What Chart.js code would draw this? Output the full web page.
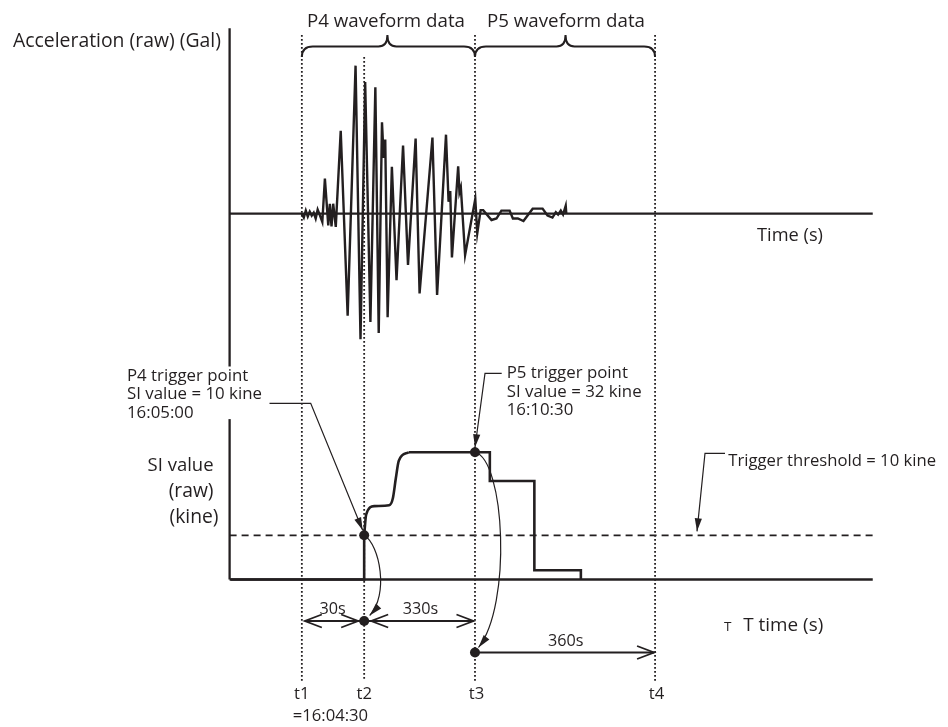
<!DOCTYPE html>
<html>
<head>
<meta charset="utf-8">
<script src="https://cdn.jsdelivr.net/npm/chart.js@4.4.1/dist/chart.umd.min.js"></script>
<style>
  html, body { margin: 0; background: #fff; }
  #wrap { width: 948px; height: 727px; position: relative; }
</style>
</head>
<body>
<div id="wrap"><canvas id="chart-si"></canvas></div>
<script>
const INK = '#231f20';
const FONT = '"Open Sans", "Noto Sans", sans-serif';

// schematic time axis (not to scale): t1..t4 markers
const markerLabels = ['t1', 't2', 't3', 't4'];
const markerX = [300, 363, 475, 657];

// raw acceleration waveform (Gal)
const accX = [300, 302, 304, 306, 308, 310, 312, 314, 316, 318, 320.7, 323.3, 326.7, 328.3, 330, 331.7, 334.3,
  339.3, 346.3, 354.3, 359.3, 364, 369.3, 374.3, 377.7, 381, 382.7, 384.3, 386.7, 391, 395.7, 402.3, 407.3,
  415, 419, 432, 436.7, 445.7, 448.3, 450, 451.7, 458, 459.3, 460.7, 465, 475.3, 477.3, 480.7, 483.3,
  491.7, 496.7, 501.7, 510, 513.3, 518.3, 524, 533.3, 543.3, 548.3, 553.3, 556.7, 559, 561.7, 564, 566.7, 567.3];
const accGal = [0, -4, 3, -3, 2, -2, 1, -5, 4, -1, -8.5, 35.5, -12, 10, -13, 10, -13.5,
  84, -103.5, 150, -127.5, 133.5, -110, 128, -121, 92.5, 56.5, 75, -105, 47.5, -67.5, 69, -52,
  76, -81, 77, -82.5, 80, 12, 23, -44.5, 48, 21.5, 26.5, -42, 15, -20, 3.5, 3.5,
  -6.5, -5, 3, 3, -5, -5, -7.5, 5, 5, -2, -4, 1.5, -1, 3, -1, 8, 0];

// SI value (kine)
const siJumpX = [228, 363, 363];
const siJumpKine = [0, 0, 10];
const siRiseX = [363, 365, 373.3, 388.3, 392, 395, 398, 408];
const siRiseKine = [10, 14.7, 16.6, 16.8, 18.4, 22.9, 26.9, 28.8];
const siStepX = [408, 490, 535, 582];
const siStepKine = [28.8, 22.3, 2.1, 0];
const thresholdKine = 10;
const triggerX = [363, 475];
const triggerKine = [10, 28.8];

// axis extents
const axisLeft = 227;
const axisRight = 877;
const accAxisRange = [188, -155];
const siAxisTop = 36.3;

const toPoints = (xs, ys) => xs.map((x, i) => ({ x, y: ys[i] }));

const seg = (ctx, x1, y1, x2, y2) => {
  ctx.beginPath(); ctx.moveTo(x1, y1); ctx.lineTo(x2, y2); ctx.stroke();
};

const filledHead = (ctx, fx, fy, tx, ty, len = 13, half = 3.6) => {
  const a = Math.atan2(ty - fy, tx - fx);
  ctx.beginPath();
  ctx.moveTo(tx, ty);
  ctx.lineTo(tx - len * Math.cos(a) + half * Math.sin(a), ty - len * Math.sin(a) - half * Math.cos(a));
  ctx.lineTo(tx - len * Math.cos(a) - half * Math.sin(a), ty - len * Math.sin(a) + half * Math.cos(a));
  ctx.closePath();
  ctx.fill();
};

const openHead = (ctx, tx, ty, dir, len = 17, half = 6.5) => {
  ctx.beginPath();
  ctx.moveTo(tx - dir * len, ty - half);
  ctx.lineTo(tx, ty);
  ctx.lineTo(tx - dir * len, ty + half);
  ctx.stroke();
};

const dot = (ctx, x, y, r = 5) => {
  ctx.beginPath(); ctx.arc(x, y, r, 0, Math.PI * 2); ctx.fill();
};

const brace = (ctx, x1, x2, xm, yTop, yMid, yEnd) => {
  ctx.beginPath();
  ctx.moveTo(x1, yEnd);
  ctx.quadraticCurveTo(x1, yMid, x1 + 11, yMid);
  ctx.lineTo(xm - 9, yMid);
  ctx.quadraticCurveTo(xm, yMid, xm, yTop);
  ctx.quadraticCurveTo(xm, yMid, xm + 9, yMid);
  ctx.lineTo(x2 - 11, yMid);
  ctx.quadraticCurveTo(x2, yMid, x2, yEnd);
  ctx.stroke();
};

// font size that makes `str` span `width` px
const fitSize = (ctx, str, width) => {
  ctx.font = `100px ${FONT}`;
  return (100 * width) / ctx.measureText(str).width;
};

const text = (ctx, str, x, y, size, align = 'left') => {
  ctx.font = `${size}px ${FONT}`;
  ctx.textAlign = align;
  ctx.textBaseline = 'alphabetic';
  ctx.fillText(str, x, y);
};

const diagramPlugin = {
  id: 'diagram',
  beforeDatasetsDraw(chart) {
    const { ctx, scales } = chart;
    const X = (v) => scales.x.getPixelForValue(v);
    const A = (v) => scales.acc.getPixelForValue(v);
    const S = (v) => scales.si.getPixelForValue(v);
    ctx.save();
    ctx.strokeStyle = INK;
    ctx.fillStyle = INK;

    // dotted t-markers
    const tops = [35, 57, 35, 35];
    ctx.lineWidth = 1.8;
    ctx.setLineDash([1.8, 2.2]);
    markerX.forEach((mx, i) => seg(ctx, X(mx), tops[i], X(mx), 681));

    // trigger threshold
    ctx.setLineDash([7, 5]);
    seg(ctx, X(axisLeft), S(thresholdKine), X(axisRight), S(thresholdKine));
    ctx.setLineDash([]);

    // axes
    ctx.lineWidth = 2.3;
    seg(ctx, X(axisLeft), A(accAxisRange[0]), X(axisLeft), A(accAxisRange[1]));
    seg(ctx, X(axisLeft), A(0), X(axisRight), A(0));
    seg(ctx, X(axisLeft), S(siAxisTop), X(axisLeft), S(0));
    seg(ctx, X(axisLeft), S(0), X(axisRight), S(0));
    ctx.restore();
  },
  afterDatasetsDraw(chart) {
    const { ctx, scales } = chart;
    const X = (v) => scales.x.getPixelForValue(v);
    const S = (v) => scales.si.getPixelForValue(v);
    const [t1, t2, t3, t4] = markerX.map(X);
    ctx.save();
    ctx.strokeStyle = INK;
    ctx.fillStyle = INK;

    // waveform braces
    ctx.lineWidth = 2;
    brace(ctx, t1, t3, (t1 + t3) / 2 - 1, 35, 46.5, 57);
    brace(ctx, t3, t4, (t3 + t4) / 2 + 0.5, 35, 46.5, 57);

    // leader lines
    ctx.lineWidth = 1.2;
    const p4 = { x: X(triggerX[0]), y: S(triggerKine[0]) };
    const p5 = { x: X(triggerX[1]), y: S(triggerKine[1]) };
    ctx.beginPath(); ctx.moveTo(269.5, 403.3); ctx.lineTo(310.7, 403.3); ctx.lineTo(p4.x - 1.5, p4.y - 5); ctx.stroke();
    filledHead(ctx, 310.7, 403.3, p4.x - 1.5, p4.y - 5);
    ctx.beginPath(); ctx.moveTo(501.7, 373.3); ctx.lineTo(485, 373.3); ctx.lineTo(p5.x, p5.y - 5); ctx.stroke();
    filledHead(ctx, 485, 373.3, p5.x, p5.y - 5);
    const thY = S(thresholdKine);
    ctx.beginPath(); ctx.moveTo(725, 453.3); ctx.lineTo(705, 453.3); ctx.lineTo(697, thY - 4); ctx.stroke();
    filledHead(ctx, 705, 453.3, 697, thY - 4);

    // curved arrows from trigger points down to the time rows
    const row1 = 621, row2 = 652.5;
    ctx.beginPath(); ctx.moveTo(p4.x, p4.y);
    ctx.bezierCurveTo(380, 545, 389, 595, t2 + 5.5, row1 - 5.5); ctx.stroke();
    filledHead(ctx, 389, 595, t2 + 5.5, row1 - 5.5);
    ctx.beginPath(); ctx.moveTo(p5.x, p5.y);
    ctx.bezierCurveTo(505, 460, 512, 605, t3 + 3.5, row2 - 5); ctx.stroke();
    filledHead(ctx, 512, 605, t3 + 3.5, row2 - 5);

    // dimension arrows
    ctx.lineWidth = 1.8;
    seg(ctx, t1 + 3, row1, t2, row1);
    openHead(ctx, t1 + 3, row1, -1);
    openHead(ctx, t2 - 6, row1, 1);
    seg(ctx, t2, row1, t3 - 1.5, row1);
    openHead(ctx, t2 + 7, row1, -1);
    openHead(ctx, t3 - 1.5, row1, 1);
    seg(ctx, t3, row2, t4 - 1, row2);
    openHead(ctx, t4 - 1, row2, 1);
    dot(ctx, t2, row1);
    dot(ctx, t3, row2);

    // texts (sizes fitted to the reference widths)
    const sTitle = fitSize(ctx, 'P4 waveform data', 158);
    text(ctx, 'P4 waveform data', 386, 26.5, sTitle, 'center');
    text(ctx, 'P5 waveform data', 566, 26.5, sTitle, 'center');
    text(ctx, 'Acceleration (raw) (Gal)', 13, 46.7, fitSize(ctx, 'Acceleration (raw) (Gal)', 208));
    text(ctx, 'Time (s)', 757, 241, fitSize(ctx, 'Time (s)', 66));

    const sNote = fitSize(ctx, 'SI value = 10 kine', 135);
    text(ctx, 'P4 trigger point', 127, 380.7, sNote);
    text(ctx, 'SI value = 10 kine', 127, 399, sNote);
    text(ctx, '16:05:00', 127, 417.7, sNote);
    text(ctx, 'P5 trigger point', 506.7, 378.3, sNote);
    text(ctx, 'SI value = 32 kine', 506.7, 396.7, sNote);
    text(ctx, '16:10:30', 506.7, 415, sNote);

    const sAxis = fitSize(ctx, '(kine)', 49);
    text(ctx, 'SI value', 213.5, 470.7, fitSize(ctx, 'SI value', 66), 'right');
    text(ctx, '(raw)', 213.5, 496.7, sAxis, 'right');
    text(ctx, '(kine)', 218.5, 523.3, sAxis, 'right');

    text(ctx, 'Trigger threshold = 10 kine', 728.3, 466, fitSize(ctx, 'Trigger threshold = 10 kine', 208));

    const sDim = fitSize(ctx, '330s', 35.5);
    text(ctx, '30s', 332.7, 614, sDim, 'center');
    text(ctx, '330s', 420.5, 614, sDim, 'center');
    text(ctx, '360s', 565.8, 646, sDim, 'center');

    const sT = fitSize(ctx, '=16:04:30', 75.5);
    markerLabels.forEach((lab, i) => text(ctx, lab, markerX.map(X)[i] + (i > 1 ? 1.5 : 0), 699.3, sT, 'center'));
    text(ctx, '=16:04:30', 292.7, 721, sT);

    text(ctx, 'T', 724, 631, 13.5);
    text(ctx, 'T time (s)', 743.3, 631, fitSize(ctx, 'T time (s)', 80));
    ctx.restore();
  },
};

const canvas = document.getElementById('chart-si');
const chart = new Chart(canvas.getContext('2d'), {
  type: 'line',
  data: {
    datasets: [
      {
        label: 'Acceleration (raw)',
        data: toPoints(accX, accGal),
        yAxisID: 'acc',
        borderColor: INK,
        borderWidth: 2.4,
        pointRadius: 0,
        tension: 0,
      },
      {
        label: 'SI jump',
        data: toPoints(siJumpX, siJumpKine),
        yAxisID: 'si',
        borderColor: INK,
        borderWidth: 2.6,
        pointRadius: 0,
      },
      {
        label: 'SI rise',
        data: toPoints(siRiseX, siRiseKine),
        yAxisID: 'si',
        borderColor: INK,
        borderWidth: 2.6,
        pointRadius: 0,
        cubicInterpolationMode: 'monotone',
      },
      {
        label: 'SI decay',
        data: toPoints(siStepX, siStepKine),
        yAxisID: 'si',
        borderColor: INK,
        borderWidth: 2.6,
        pointRadius: 0,
        stepped: 'before',
      },
      {
        label: 'Trigger points',
        data: toPoints(triggerX, triggerKine),
        yAxisID: 'si',
        showLine: false,
        pointRadius: 5,
        pointBackgroundColor: INK,
        pointBorderWidth: 0,
      },
    ],
  },
  options: {
    responsive: true,
    maintainAspectRatio: false,
    animation: false,
    events: [],
    layout: { padding: 0 },
    plugins: { legend: { display: false }, tooltip: { enabled: false } },
    scales: {
      x: { type: 'linear', min: 0, max: 948, display: false },
      acc: { type: 'linear', min: -515.5, max: 211.5, display: false },
      si: { type: 'linear', min: -32.25, max: 130.02, display: false },
    },
  },
  plugins: [diagramPlugin],
});
</script>
</body>
</html>
